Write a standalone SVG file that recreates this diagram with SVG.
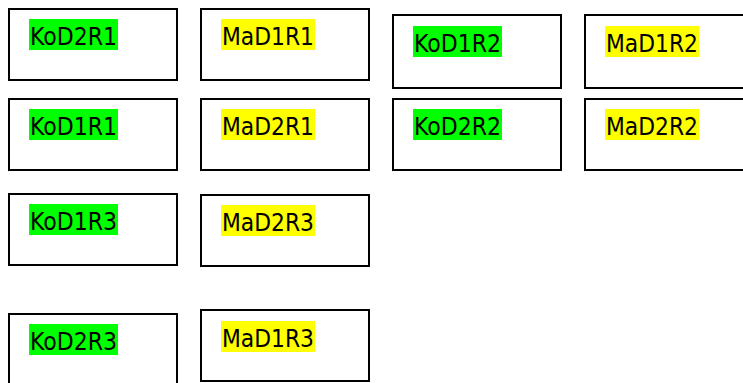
<svg xmlns="http://www.w3.org/2000/svg" width="743" height="383" viewBox="0 0 743 383">
<style>
.box{fill:#fff;stroke:#000;stroke-width:2}
.g{fill:#00ff00}
.y{fill:#ffff00}
text{font-family:"DejaVu Sans",Verdana,sans-serif;font-size:24px;fill:#000}
</style>
<rect width="743" height="383" fill="#fff"/>
<g id="KoD2R1"><rect class="box" x="9" y="9" width="168" height="71"/><rect class="g" x="29" y="19" width="89" height="31"/><text x="30" y="45" textLength="87" lengthAdjust="spacingAndGlyphs">KoD2R1</text></g>
<g id="MaD1R1"><rect class="box" x="201" y="9" width="168" height="71"/><rect class="y" x="221" y="19" width="94" height="31"/><text x="222" y="45" textLength="92" lengthAdjust="spacingAndGlyphs">MaD1R1</text></g>
<g id="KoD1R2"><rect class="box" x="393" y="15" width="168" height="73"/><rect class="g" x="413" y="26" width="89" height="31"/><text x="414" y="52" textLength="87" lengthAdjust="spacingAndGlyphs">KoD1R2</text></g>
<g id="MaD1R2"><rect class="box" x="585" y="15" width="168" height="73"/><rect class="y" x="605" y="26" width="94" height="31"/><text x="606" y="52" textLength="92" lengthAdjust="spacingAndGlyphs">MaD1R2</text></g>
<g id="KoD1R1"><rect class="box" x="9" y="99" width="168" height="71"/><rect class="g" x="29" y="109" width="89" height="31"/><text x="30" y="135" textLength="87" lengthAdjust="spacingAndGlyphs">KoD1R1</text></g>
<g id="MaD2R1"><rect class="box" x="201" y="99" width="168" height="71"/><rect class="y" x="221" y="109" width="94" height="31"/><text x="222" y="135" textLength="92" lengthAdjust="spacingAndGlyphs">MaD2R1</text></g>
<g id="KoD2R2"><rect class="box" x="393" y="99" width="168" height="71"/><rect class="g" x="413" y="109" width="89" height="31"/><text x="414" y="135" textLength="87" lengthAdjust="spacingAndGlyphs">KoD2R2</text></g>
<g id="MaD2R2"><rect class="box" x="585" y="99" width="168" height="71"/><rect class="y" x="605" y="109" width="94" height="31"/><text x="606" y="135" textLength="92" lengthAdjust="spacingAndGlyphs">MaD2R2</text></g>
<g id="KoD1R3"><rect class="box" x="9" y="194" width="168" height="71"/><rect class="g" x="29" y="204" width="89" height="31"/><text x="30" y="230" textLength="87" lengthAdjust="spacingAndGlyphs">KoD1R3</text></g>
<g id="MaD2R3"><rect class="box" x="201" y="195" width="168" height="71"/><rect class="y" x="221" y="205" width="94" height="31"/><text x="222" y="231" textLength="92" lengthAdjust="spacingAndGlyphs">MaD2R3</text></g>
<g id="KoD2R3"><rect class="box" x="9" y="314" width="168" height="80"/><rect class="g" x="29" y="324" width="89" height="31"/><text x="30" y="350" textLength="87" lengthAdjust="spacingAndGlyphs">KoD2R3</text></g>
<g id="MaD1R3"><rect class="box" x="201" y="310" width="168" height="71"/><rect class="y" x="221" y="321" width="94" height="31"/><text x="222" y="347" textLength="92" lengthAdjust="spacingAndGlyphs">MaD1R3</text></g>
<g id="connectors"></g>
</svg>
